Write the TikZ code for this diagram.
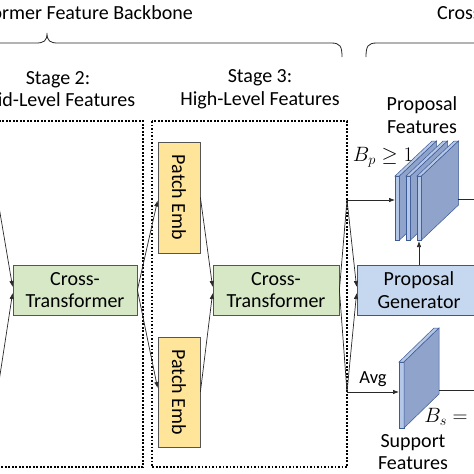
\documentclass[tikz,border=0pt]{standalone}
\usepackage{fontspec}
\setmainfont{Carlito}
\usetikzlibrary{arrows.meta,calc}
\definecolor{ctgreen}{RGB}{214,232,198}
\definecolor{peorange}{RGB}{255,229,153}
\definecolor{pgblue}{RGB}{198,216,240}
\definecolor{boxline}{RGB}{85,85,85}
\definecolor{plfront}{RGB}{180,199,231}
\definecolor{plside}{RGB}{143,163,203}
\definecolor{plline}{RGB}{60,90,150}
\definecolor{lnc}{RGB}{40,40,40}
\tikzset{
  block/.style={draw=boxline, line width=0.8pt, inner sep=0pt, align=center},
  ctbox/.style={block, fill=ctgreen, minimum width=124pt, minimum height=50pt},
  pebox/.style={block, fill=peorange, minimum width=42pt, minimum height=110pt},
  pgbox/.style={block, fill=pgblue, minimum width=124pt, minimum height=50pt},
  stagebox/.style={draw=black, line width=2pt, dash pattern=on 1.6pt off 1.9pt},
  conn/.style={draw=lnc, line width=0.7pt},
  arr/.style={conn, -{Latex[length=6pt,width=4.5pt]}},
  bracel/.style={draw=lnc, line width=0.8pt},
  lbl/.style={align=center, inner sep=0pt, text=black},
  plate/.style={draw=plline, line width=0.5pt}
}
\newcommand{\myplate}[6]{% x0, ytop, ybot, w, dx, dy
  \fill[plfront,plate] (#1,#2) rectangle ({#1+#4},#3);
  \fill[plfront,plate] (#1,#2) -- ({#1+#5},{#2+#6}) -- ({#1+#4+#5},{#2+#6}) -- ({#1+#4},#2) -- cycle;
  \fill[plside,plate] ({#1+#4},#2) -- ({#1+#4+#5},{#2+#6}) -- ({#1+#4+#5},{#3+#6}) -- ({#1+#4},#3) -- cycle;
}
\begin{document}
\begin{tikzpicture}[x=1pt,y=-1pt, font=\fontsize{20}{22.5}\selectfont]
\useasboundingbox (0,0) rectangle (474,474);

% top titles (clipped by page)
\node[lbl, anchor=east] (t1) at (193,13) {Cross-Transformer Feature Backbone};
\node[lbl, anchor=west] (t2) at (437,13) {Cross-Transformer Detection Head};

% braces
\draw[bracel] (342,57) .. controls (342,46) and (340,43) .. (331,43) -- (58,43)
  .. controls (50,43) and (47,41) .. (47,33) .. controls (47,41) and (44,43) .. (36,43) -- (-300,43);
\draw[bracel] (366,57) .. controls (366,46) and (368,43) .. (377,43) -- (520,43);

% stage labels
\node[lbl] (s2) at (58,89) {Stage 2:\\Mid-Level Features};
\node[lbl] (s3) at (260,89) {Stage 3:\\High-Level Features};
\node[lbl] (pft) at (422,115) {Proposal\\Features};

% stage boxes
\draw[stagebox] (-20,121) rectangle (143,467);
\draw[stagebox] (152,121) rectangle (347,467);

% blocks
\node[ctbox] (ct1) at (75,290) {Cross-\\Transformer};
\node[ctbox, minimum width=126pt] (ct2) at (276,290) {Cross-\\Transformer};
\node[pebox, minimum height=111pt] (pe1) at (179,197.5) {\rotatebox{-90}{Patch Emb}};
\node[pebox] (pe2) at (179,392) {\rotatebox{-90}{Patch Emb}};
\node[pgbox] (pg) at (419,290) {Proposal\\Generator};

% plates
\myplate{395}{176}{240}{4.5}{37}{-35}
\myplate{406}{176}{240}{4.5}{37}{-35}
\myplate{417}{176}{240}{4.5}{37}{-35}
\myplate{399}{362}{428}{5}{35}{-34}

% coordinates
\coordinate (inA) at (-2,201);
\coordinate (inB) at (-2,388);
\coordinate (q) at (347,200);
\coordinate (s) at (347,392);
\coordinate (pfL) at (395,200);
\coordinate (pfB) at (419,241);
\coordinate (pfR) at (458,199);
\coordinate (outA) at (480,199);
\coordinate (sfL) at (399,392);
\coordinate (sfR) at (439,390);
\coordinate (outB) at (480,390);

% connectors stage 2
\draw[arr] (inA) -- ([yshift=3pt]ct1.west);
\draw[arr] (inB) -- ([yshift=-3pt]ct1.west);
\draw[arr] (ct1.east) -- ([yshift=-3pt]pe1.west);
\draw[arr] (ct1.east) -- ([yshift=4pt]pe2.west);
% stage 3
\draw[arr] (pe1.east) -- ([yshift=3pt]ct2.west);
\draw[arr] (pe2.east) -- ([yshift=-3pt]ct2.west);
\draw[conn] (ct2.east) -- (q);
\draw[conn] (ct2.east) -- (s);
\draw[arr] (q) -- (pfL);
\draw[arr] (q) -- ([yshift=3pt]pg.west);
\draw[arr] (s) -- ([yshift=-3pt]pg.west);
\draw[arr] (s) -- node[lbl, above=5pt, font=\fontsize{18.5}{20}\selectfont] (avg) {Avg} (sfL);
\draw[arr] (pg.north) -- (pfB);
\draw[conn] (pfR) -- (outA);
\draw[conn] (sfR) -- (outB);

% math labels
\node[lbl] (bp) at (383,157) {$B_p \geq 1$};
\node[lbl] (bs) at (446,417) {$B_s =$};
\node[lbl] (sft) at (413,452) {Support\\Features};
\end{tikzpicture}
\end{document}
